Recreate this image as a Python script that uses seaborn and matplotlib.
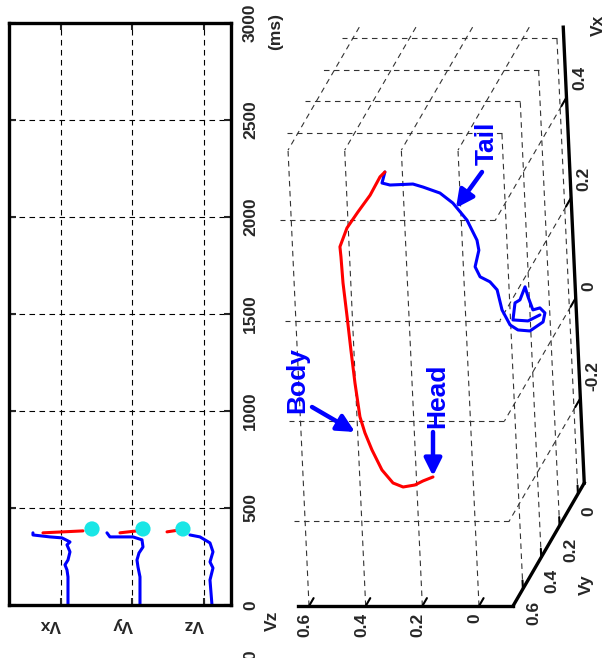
import numpy as np
import matplotlib
matplotlib.use("Agg")
import matplotlib.pyplot as plt
import seaborn as sns

sns.set_theme(style="white")
plt.rcParams["font.family"] = ["Liberation Sans", "DejaVu Sans"]
plt.rcParams["font.weight"] = "bold"

W, H = 607, 658
FS = 12.5

# ---------------- time traces ----------------
rows = ["Vx", "Vy", "Vz"]
row_pos = [1, 2, 3]
t_ticks = [0, 500, 1000, 1500, 2000, 2500, 3000]

vx_blue_t = [0, 145, 181, 207, 232, 274, 310, 325, 346, 351, 361, 372]
vx_blue_v = [0.098, 0.098, 0.084, 0.056, 0.098, 0.126, 0.084, 0.126, 0.014, -0.154, -0.392, -0.392]
vx_red_t = [372, 377, 382]
vx_red_v = [-0.252, 0.03, 0.308]

vy_blue_t = [0, 145, 196, 232, 268, 299, 336, 351, 351, 372]
vy_blue_v = [0.105, 0.105, 0.077, 0.063, 0.091, 0.147, 0.133, 0.007, -0.315, -0.357]
vy_red_t = [372, 382]
vy_red_v = [-0.175, 0.063]

vz_blue_t = [0, 129, 191, 222, 274, 320, 351, 361]
vz_blue_v = [0.112, 0.084, 0.126, 0.084, 0.126, 0.084, -0.056, -0.196]
vz_red_t = [377, 387]
vz_red_v = [-0.517, -0.336]

end_t = [392, 392, 392]
end_v = [0.434, 0.147, -0.294]

# ---------------- 3-D trajectory ----------------
tail_vx = [-0.012, -0.024, -0.022, 0.012, 0.018, 0.044, 0.024, -0.002, 0.002, -0.008,
           -0.026, -0.044, -0.042, -0.032, -0.002, 0.038, 0.054, 0.064, 0.084, 0.117,
           0.137, 0.177, 0.211, 0.231, 0.243, 0.249, 0.247, 0.251, 0.273]
tail_vy = [0.0] * 29
tail_vz = [-0.015, 0.028, 0.081, 0.071, 0.053, 0.033, 0.024, 0.009, -0.016, -0.033,
           -0.025, 0.023, 0.065, 0.092, 0.118, 0.132, 0.156, 0.190, 0.206, 0.190,
           0.195, 0.227, 0.274, 0.318, 0.377, 0.412, 0.493, 0.521, 0.509]

body_vx = [0.273, 0.276, 0.252, 0.231, 0.212, 0.187, 0.167, 0.115, 0.047, -0.019,
           -0.085, -0.152, -0.184, -0.218, -0.258, -0.284, -0.292, -0.288, -0.280, -0.272]
body_vy = [0.0, 0.04, 0.08, 0.12, 0.16] + [0.2] * 15
body_vz = [0.509, 0.513, 0.537, 0.569, 0.596, 0.610, 0.608, 0.605, 0.596, 0.588,
           0.579, 0.567, 0.552, 0.530, 0.498, 0.461, 0.426, 0.384, 0.355, 0.319]

vx_lim = (-0.369, 0.540)
vy_lim = (-0.069, 0.708)
vz_lim = (-0.120, 0.640)
vx_ticks = [-0.2, 0, 0.2, 0.4]
vy_ticks = [0, 0.2, 0.4, 0.6]
vz_ticks = [0, 0.2, 0.4, 0.6]

# orthographic view of the 3-D box onto the page
ORG = np.array([535.4, 308.9])
EX = np.array([-23.1, -501.5])
EY = np.array([-91.7, 158.3])
EZ = np.array([-283.3, 0.0])


def proj(vx, vy, vz):
    vx, vy, vz = (np.atleast_1d(np.asarray(v, float)) for v in (vx, vy, vz))
    p = ORG[:, None] + EX[:, None] * vx + EY[:, None] * vy + EZ[:, None] * vz
    return p[0], p[1]


fig = plt.figure(figsize=(W / 100, H / 100), dpi=100)
fig.patch.set_facecolor("white")

ax3 = fig.add_axes([0, 0, 1, 1])
ax3.set_facecolor("none")

grid_kw = dict(color="#333333", lw=0.8, ls=(0, (5, 4)))
x0, x1 = vx_lim
y0, y1 = vy_lim
z0, z1 = vz_lim
segs = []
for v in vx_ticks:
    segs.append(((v, y1, z0), (v, y1, z1)))
    segs.append(((v, y0, z0), (v, y1, z0)))
for v in vz_ticks:
    segs.append(((x0, y1, v), (x1, y1, v)))
    segs.append(((x1, y0, v), (x1, y1, v)))
for v in vy_ticks:
    segs.append(((x1, v, z0), (x1, v, z1)))
    segs.append(((x0, v, z0), (x1, v, z0)))
for a, b in segs:
    px, py = proj(*zip(a, b))
    ax3.plot(px, py, **grid_kw)

# axis lines
for a, b in [((x0, y1, z1), (x0, y1, z0)), ((x0, y1, z0), (x0, y0, z0)), ((x0, y0, z0), (x1, y0, z0))]:
    px, py = proj(*zip(a, b))
    ax3.plot(px, py, color="black", lw=2.4, solid_capstyle="projecting")

# ticks and tick labels
for v in vz_ticks:
    px, py = proj([x0, x0], [y1, y1 - 0.05], [v, v])
    ax3.plot(px, py, color="black", lw=1.5)
    ax3.text(px[0] - 4, py[0] + 7, f"{v:g}", rotation=90, ha="center", va="top", fontsize=FS)
for v in vy_ticks:
    px, py = proj([x0, x0 + 0.017], [v, v], [z0, z0])
    ax3.plot(px, py, color="black", lw=1.5)
    ax3.text(px[0] + 11, py[0] + 12, f"{v:g}", rotation=90, ha="center", va="top", fontsize=FS)
for v in vx_ticks:
    px, py = proj([v, v], [y0, y0 + 0.055], [z0, z0])
    ax3.plot(px, py, color="black", lw=1.5)
    ax3.text(px[0] + 13, py[0] - 7, f"{v:g}", rotation=90, ha="center", va="bottom", fontsize=FS)
ax3.text(272, 621, "Vz", rotation=90, ha="center", va="center", fontsize=FS)
ax3.text(586, 585, "Vy", rotation=90, ha="center", va="center", fontsize=FS)
ax3.text(598, 25, "Vx", rotation=90, ha="center", va="center", fontsize=FS)

# trajectory: tail (blue) then body (red)
tx, ty = proj(tail_vx, tail_vy, tail_vz)
bx, by = proj(body_vx, body_vy, body_vz)
sns.lineplot(x=tx, y=ty, sort=False, estimator=None, color="#0000ff", lw=2.2, ax=ax3)
sns.lineplot(x=bx, y=by, sort=False, estimator=None, color="#ff0000", lw=2.2, ax=ax3)

arrow_kw = dict(arrowstyle="-|>", color="#0000ff", lw=3.2, mutation_scale=26, shrinkA=0, shrinkB=0)
ax3.annotate("", xy=(355, 432), xytext=(312, 407), arrowprops=arrow_kw)
ax3.annotate("", xy=(433, 476), xytext=(433, 432), arrowprops=arrow_kw)
ax3.annotate("", xy=(456, 208), xytext=(482, 172), arrowprops=arrow_kw)
lab_kw = dict(rotation=90, ha="center", va="center", fontsize=19, color="#0000ff")
ax3.text(297, 380, "Body", **lab_kw)
ax3.text(437, 396, "Head", **lab_kw)
ax3.text(487, 143, "Tail", **lab_kw)

ax3.set_xlim(0, W)
ax3.set_ylim(H, 0)
ax3.axis("off")

# ---------------- left panel ----------------
axL = fig.add_axes([9 / W, 1 - 605 / H, (231 - 9) / W, (605 - 23) / H])
traces = [
    (0, vx_blue_t, vx_blue_v, vx_red_t, vx_red_v),
    (1, vy_blue_t, vy_blue_v, vy_red_t, vy_red_v),
    (2, vz_blue_t, vz_blue_v, vz_red_t, vz_red_v),
]
for i, bt, bv, rt, rv in traces:
    sns.lineplot(x=row_pos[i] + np.array(bv), y=bt, sort=False, estimator=None, orient="y",
                 color="#0000ff", lw=2.2, ax=axL)
    sns.lineplot(x=row_pos[i] + np.array(rv), y=rt, sort=False, estimator=None, orient="y",
                 color="#ff0000", lw=2.2, ax=axL)
sns.scatterplot(x=np.array(row_pos) + np.array(end_v), y=end_t, s=120, color="#19e6e6",
                edgecolor="none", ax=axL, zorder=5)

axL.set_xlim(0.273, 3.378)
axL.set_ylim(0, 3000)
axL.set_xticks(row_pos)
axL.set_xticklabels(rows, rotation=180, ha="right", va="top", fontsize=FS)
axL.set_yticks(t_ticks)
axL.set_yticklabels([str(t) for t in t_ticks], fontsize=FS)
axL.yaxis.tick_right()
axL.tick_params(axis="both", direction="in", length=5, width=1.5, top=True, bottom=True,
                left=True, right=True, labelleft=False, labelright=True, pad=8.6)
axL.tick_params(axis="y", labelrotation=90)
for lab in axL.get_yticklabels():
    lab.set_va("center")
    lab.set_ha("left")
axL.grid(True, color="black", lw=0.8, ls=(0, (5, 4)))
axL.set_xlabel("")
axL.set_ylabel("")
for s in axL.spines.values():
    s.set_linewidth(2.4)
    s.set_color("black")
axL.set_facecolor("white")
fig.text(276 / W, 1 - 32 / H, "(ms)", rotation=90, ha="center", va="center", fontsize=FS)
fig.text(251 / W, 1 - 655 / H, "0", rotation=90, ha="center", va="center", fontsize=FS)

fig.savefig("out.png", dpi=100, facecolor="white")
